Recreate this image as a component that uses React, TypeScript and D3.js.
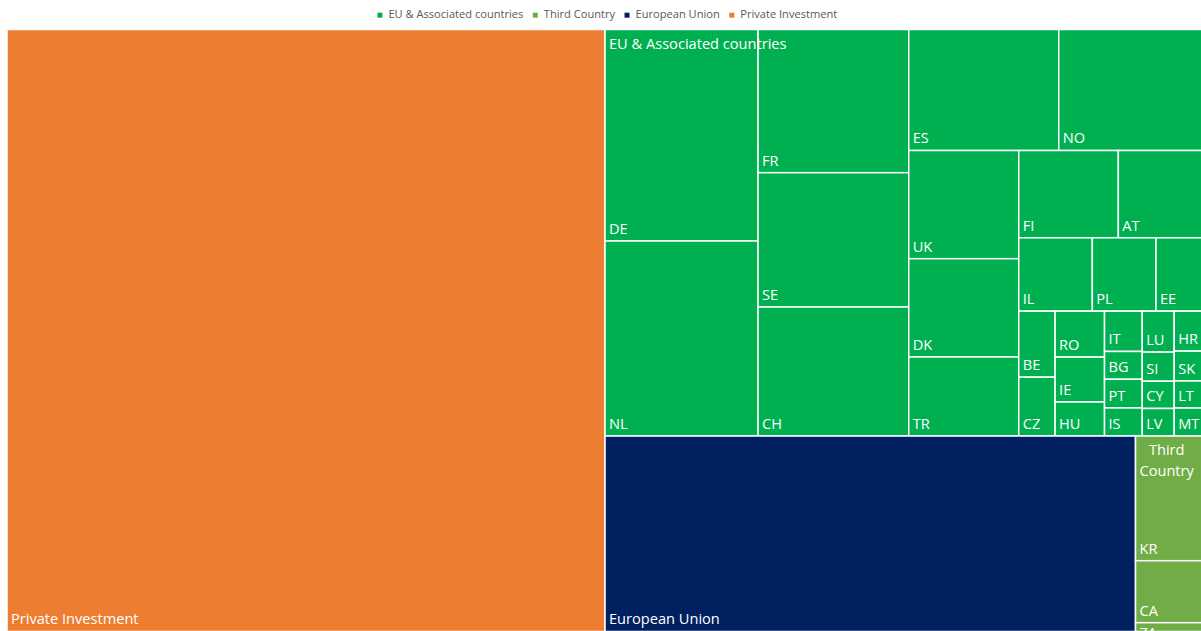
import React from 'react';
import * as d3 from 'd3';

const W = 1201;
const H = 631;

// top level groups, in the order the treemap lays them out
const groupNames = ['Private Investment', 'EU & Associated countries', 'European Union', 'Third Country'];
const groupColors = ['#ED7D31', '#00B050', '#002060', '#70AD47'];
const legendOrder = ['EU & Associated countries', 'Third Country', 'European Union', 'Private Investment'];

const privateValue = 3600;
const unionValue = 1037;

const assocCountries = ['DE', 'NL', 'FR', 'SE', 'CH', 'ES', 'NO', 'UK', 'DK', 'TR', 'FI', 'AT', 'IL', 'PL', 'EE',
  'BE', 'CZ', 'RO', 'IE', 'HU', 'IT', 'BG', 'PT', 'IS', 'LU', 'SI', 'CY', 'LV', 'HR', 'SK', 'LT', 'MT'];
const assocValues = [323.6, 298.4, 215.8, 202.4, 194.4, 181.5, 178.2, 119.0, 108.1, 86.9, 86.9, 76.5, 54.0, 46.7, 36.7,
  24.0, 21.4, 22.7, 22.2, 16.8, 15.2, 10.5, 10.8, 10.6, 13.1, 9.3, 8.7, 8.8, 12.7, 9.5, 8.6, 8.9];

const thirdCountries = ['KR', 'CA', 'ZA'];
const thirdValues = [87.9, 43.7, 6.2];

// how Excel grouped the tiles into strips: [items in strip, 'v' = column on the left, 'h' = row on top]
const stripPlans: Record<string, [number, 'v' | 'h'][]> = {
  root: [[1, 'v'], [1, 'h'], [2, 'h']],
  'EU & Associated countries': [[2, 'v'], [3, 'v'], [2, 'h'], [3, 'v'], [2, 'h'], [3, 'h'], [2, 'v'], [3, 'v'], [4, 'v'], [4, 'v'], [4, 'v']],
  'Third Country': [[3, 'v']],
};

const FONT = "'Open Sans', sans-serif";
const LABEL_SIZE = 14.6;
const LEGEND_SIZE = 11.1;

const ctx = document.createElement('canvas').getContext('2d')!;
const textWidth = (s: string, size: number) => {
  ctx.font = `${size}px ${FONT}`;
  return ctx.measureText(s).width;
};

function stripTile(node: any, x0: number, y0: number, x1: number, y1: number) {
  const plan = stripPlans[node.data.name];
  if (!plan) {
    d3.treemapSquarify.ratio(1)(node, x0, y0, x1, y1);
    return;
  }
  let remaining = node.value;
  let i = 0;
  for (const [count, dir] of plan) {
    const row = node.children.slice(i, i + count);
    const sum = d3.sum(row, (d: any) => d.value);
    const strip: any = { children: row, value: sum };
    if (dir === 'v') {
      const xe = x0 + (x1 - x0) * sum / remaining;
      d3.treemapSlice(strip, x0, y0, xe, y1);
      x0 = xe;
    } else {
      const ye = y0 + (y1 - y0) * sum / remaining;
      d3.treemapDice(strip, x0, y0, x1, ye);
      y0 = ye;
    }
    remaining -= sum;
    i += count;
  }
}

const data = {
  name: 'root',
  children: [
    { name: 'Private Investment', value: privateValue },
    { name: 'EU & Associated countries', children: assocCountries.map((c, i) => ({ name: c, value: assocValues[i] })) },
    { name: 'European Union', value: unionValue },
    { name: 'Third Country', children: thirdCountries.map((c, i) => ({ name: c, value: thirdValues[i] })) },
  ],
};

const App = () => {
  const plot = { x: 7, y: 29.5, w: 1199, h: 602 };
  const color = d3.scaleOrdinal<string, string>().domain(groupNames).range(groupColors);

  const root = d3.hierarchy<any>(data).sum((d) => d.value ?? 0);
  d3.treemap<any>().tile(stripTile).size([plot.w, plot.h])(root);
  const leaves = root.leaves() as d3.HierarchyRectangularNode<any>[];
  const parents = (root.children as d3.HierarchyRectangularNode<any>[]).filter((d) => d.children);
  const groupOf = (d: any) => (d.depth === 1 ? d.data.name : d.parent.data.name);

  // legend centred over the chart
  const items = legendOrder.map((name) => ({ name, tw: textWidth(name, LEGEND_SIZE) }));
  const total = d3.sum(items, (d) => d.tw + 11) + 9.5 * (items.length - 1);
  let lx = 607.3 - total / 2;
  const legend = items.map((d) => {
    const it = { ...d, x: lx };
    lx += d.tw + 11 + 9.5;
    return it;
  });

  return (
    <svg width={W} height={H} style={{ position: 'absolute', left: 0, top: 0, background: '#fff' }} fontFamily={FONT}>
      <g>
        {legend.map((d) => (
          <g key={d.name} transform={`translate(${d.x},0)`}>
            <rect x={0} y={12.7} width={5} height={5} fill={color(d.name)} />
            <text x={11} y={18.3} fontSize={LEGEND_SIZE} fill="#595959">{d.name}</text>
          </g>
        ))}
      </g>
      <g transform={`translate(${plot.x},${plot.y})`}>
        {leaves.map((d) => (
          <rect key={d.data.name} x={d.x0} y={d.y0} width={d.x1 - d.x0} height={d.y1 - d.y0}
            fill={color(groupOf(d))} stroke="#fff" strokeWidth={1.5} />
        ))}
        {leaves.map((d) => {
          const small = d.y1 - d.y0 < 20;
          return (
            <text key={d.data.name} x={d.x0 + 4} y={small ? d.y0 + 15 : d.y1 - 7.2} fontSize={LABEL_SIZE} fill="#fff">
              {d.data.name}
            </text>
          );
        })}
        {parents.map((d) => {
          const name = d.data.name;
          const room = d.x1 - d.x0 - 8;
          const lines = textWidth(name, LABEL_SIZE) > room ? name.split(' ') : [name];
          const bw = d3.max(lines, (l) => textWidth(l, LABEL_SIZE))!;
          return (
            <text key={name} x={d.x0 + 4 + bw / 2} y={d.y0 + 19} fontSize={LABEL_SIZE} fill="#fff" textAnchor="middle">
              {lines.map((l, i) => (
                <tspan key={l} x={d.x0 + 4 + bw / 2} dy={i === 0 ? 0 : 20.5}>{l}</tspan>
              ))}
            </text>
          );
        })}
      </g>
    </svg>
  );
};

export default App;
